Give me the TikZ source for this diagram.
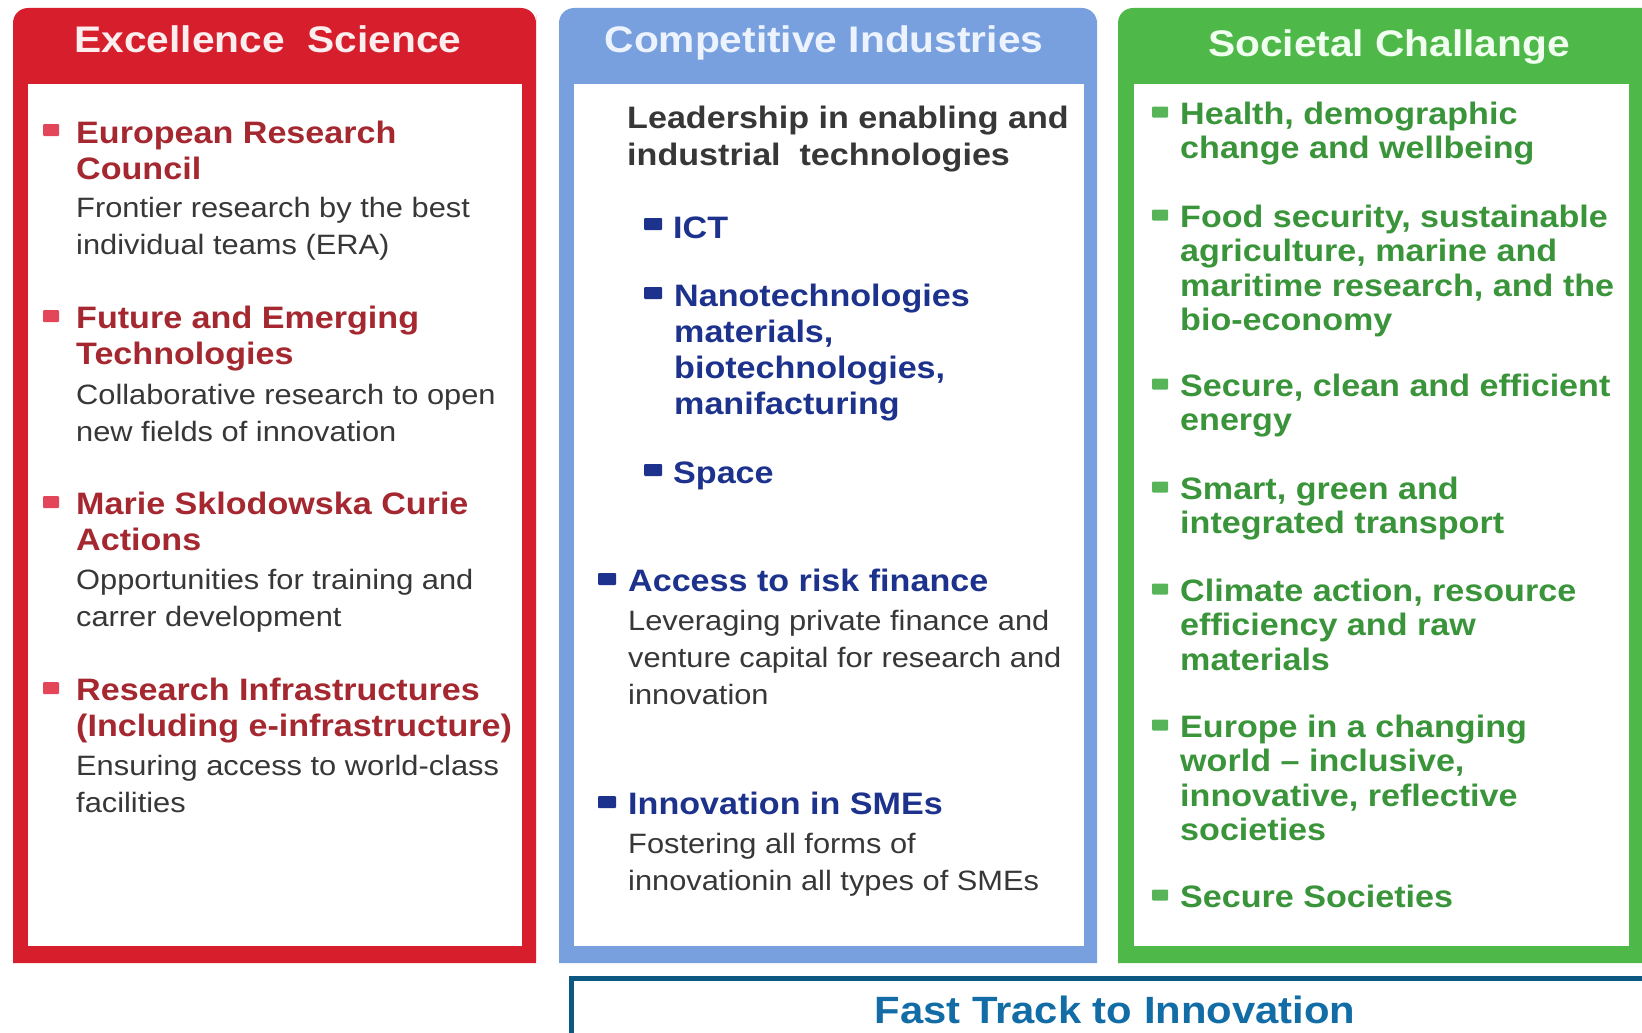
\documentclass[tikz,border=0pt]{standalone}
\usepackage{fontspec}
\setmainfont{Liberation Sans}[FakeStretch=1.1]
\usepackage{tikz}

\definecolor{esred}{RGB}{214,30,44}
\definecolor{esredtxt}{RGB}{165,40,48}
\definecolor{esredbul}{RGB}{226,70,88}
\definecolor{ciblue}{RGB}{120,160,222}
\definecolor{cinavy}{RGB}{28,50,140}
\definecolor{scgreen}{RGB}{78,184,72}
\definecolor{scgreentxt}{RGB}{58,148,58}
\definecolor{scgreenbul}{RGB}{88,180,88}
\definecolor{descgray}{RGB}{55,55,55}
\definecolor{ftcolor}{RGB}{12,88,128}
\definecolor{fttext}{RGB}{18,108,165}

\begin{document}
\begin{tikzpicture}[x=1pt, y=-1pt,
    headtxt/.style={font=\fontsize{37}{40}\selectfont\bfseries, anchor=base, inner sep=0pt},
    itemtxt/.style={font=\fontsize{31}{36}\selectfont\bfseries, anchor=north west, inner sep=0pt, align=left},
    greentxt/.style={itemtxt, font=\fontsize{31}{34.5}\selectfont\bfseries, text=scgreentxt},
    desctxt/.style={font=\fontsize{28}{37}\selectfont, anchor=north west, inner sep=0pt, align=left, text=descgray},
    sqbul/.style={inner sep=0pt, minimum width=16pt, minimum height=12pt, rounded corners=1pt}]
    \useasboundingbox (0,0) rectangle (1642,1033);
    \clip (0,0) rectangle (1642,1033);

    % three panels
    \fill[esred] (13,963) -- (13,30) [rounded corners=15pt] -- (13,8) -- (536,8) -- (536,30) [sharp corners] -- (536,963) -- cycle;
    \fill[white] (28,84) rectangle (522,946);
    \fill[ciblue] (559,963) -- (559,30) [rounded corners=15pt] -- (559,8) -- (1097,8) -- (1097,30) [sharp corners] -- (1097,963) -- cycle;
    \fill[white] (574,84) rectangle (1084,946);
    \fill[scgreen] (1118,963) -- (1118,30) [rounded corners=15pt] -- (1118,8) -- (1660,8) -- (1660,30) [sharp corners] -- (1660,963) -- cycle;
    \fill[white] (1134,84) rectangle (1629,946);

    \node[headtxt, text={rgb,255:red,252;green,238;blue,238}] (es-head) at (268,53) {Excellence\ \ Science};
    \node[headtxt, text={rgb,255:red,236;green,243;blue,255}] (ci-head) at (824,53) {Competitive Industries};
    \node[headtxt, text={rgb,255:red,240;green,255;blue,240}] (sc-head) at (1389,57) {Societal Challange};

    % excellence science
    \node[sqbul, fill=esredbul] (erc-b) at (51,130) {};
    \node[itemtxt, text=esredtxt] (erc) at (76,118) {\strut European Research\\Council};
    \node[desctxt] (erc-d) at (76,191) {\strut Frontier research by the best\\individual teams (ERA)};
    \node[sqbul, fill=esredbul] (fet-b) at (51,316) {};
    \node[itemtxt, text=esredtxt] (fet) at (76,303) {\strut Future and Emerging\\Technologies};
    \node[desctxt] (fet-d) at (76,378) {\strut Collaborative research to open\\new fields of innovation};
    \node[sqbul, fill=esredbul] (msca-b) at (51,502) {};
    \node[itemtxt, text=esredtxt] (msca) at (76,489) {\strut Marie Sklodowska Curie\\Actions};
    \node[desctxt] (msca-d) at (76,563) {\strut Opportunities for training and\\carrer development};
    \node[sqbul, fill=esredbul] (ri-b) at (51,688) {};
    \node[itemtxt, text=esredtxt] (ri) at (76,675) {\strut Research Infrastructures\\(Including e-infrastructure)};
    \node[desctxt] (ri-d) at (76,749) {\strut Ensuring access to world-class\\facilities};

    % competitive industries
    \node[itemtxt, text=descgray, font=\fontsize{31}{37}\selectfont\bfseries] (leit) at (627,102) {\strut Leadership in enabling and\\industrial\ \ technologies};
    \node[sqbul, fill=cinavy, minimum width=18pt] (ict-b) at (653,224) {};
    \node[itemtxt, text=cinavy] (ict) at (673,213) {\strut ICT};
    \node[sqbul, fill=cinavy, minimum width=18pt] (nano-b) at (653,293) {};
    \node[itemtxt, text=cinavy] (nano) at (674,281) {\strut Nanotechnologies\\materials,\\biotechnologies,\\manifacturing};
    \node[sqbul, fill=cinavy, minimum width=18pt] (space-b) at (653,470) {};
    \node[itemtxt, text=cinavy] (space) at (673,458) {\strut Space};
    \node[sqbul, fill=cinavy, minimum width=18pt] (risk-b) at (607,579) {};
    \node[itemtxt, text=cinavy] (risk) at (628,566) {\strut Access to risk finance};
    \node[desctxt] (risk-d) at (628,604) {\strut Leveraging private finance and\\venture capital for research and\\innovation};
    \node[sqbul, fill=cinavy, minimum width=18pt] (sme-b) at (607,802) {};
    \node[itemtxt, text=cinavy] (sme) at (628,789) {\strut Innovation in SMEs};
    \node[desctxt] (sme-d) at (628,827) {\strut Fostering all forms of\\innovationin all types of SMEs};

    % societal challange
    \node[sqbul, fill=scgreenbul, minimum height=11pt] (sc1-b) at (1160,112) {};
    \node[greentxt] (sc1) at (1180,100) {\strut Health, demographic\\change and wellbeing};
    \node[sqbul, fill=scgreenbul, minimum height=11pt] (sc2-b) at (1160,215) {};
    \node[greentxt] (sc2) at (1180,203) {\strut Food security, sustainable\\agriculture, marine and\\maritime research, and the\\bio-economy};
    \node[sqbul, fill=scgreenbul, minimum height=11pt] (sc3-b) at (1160,384) {};
    \node[greentxt] (sc3) at (1180,372) {\strut Secure, clean and efficient\\energy};
    \node[sqbul, fill=scgreenbul, minimum height=11pt] (sc4-b) at (1160,487) {};
    \node[greentxt] (sc4) at (1180,475) {\strut Smart, green and\\integrated transport};
    \node[sqbul, fill=scgreenbul, minimum height=11pt] (sc5-b) at (1160,589) {};
    \node[greentxt] (sc5) at (1180,577) {\strut Climate action, resource\\efficiency and raw\\materials};
    \node[sqbul, fill=scgreenbul, minimum height=11pt] (sc6-b) at (1160,725) {};
    \node[greentxt] (sc6) at (1180,713) {\strut Europe in a changing\\world -- inclusive,\\innovative, reflective\\societies};
    \node[sqbul, fill=scgreenbul, minimum height=11pt] (sc7-b) at (1160,895) {};
    \node[greentxt] (sc7) at (1180,883) {\strut Secure Societies};

    % fast track box
    \draw[ftcolor, line width=5pt] (571,1045) |- (1660,978);
    \node[font=\fontsize{38}{42}\selectfont\bfseries, text=fttext, anchor=base, inner sep=0pt] (ftti) at (1115,1023) {Fast Track to Innovation};
\end{tikzpicture}
\end{document}
